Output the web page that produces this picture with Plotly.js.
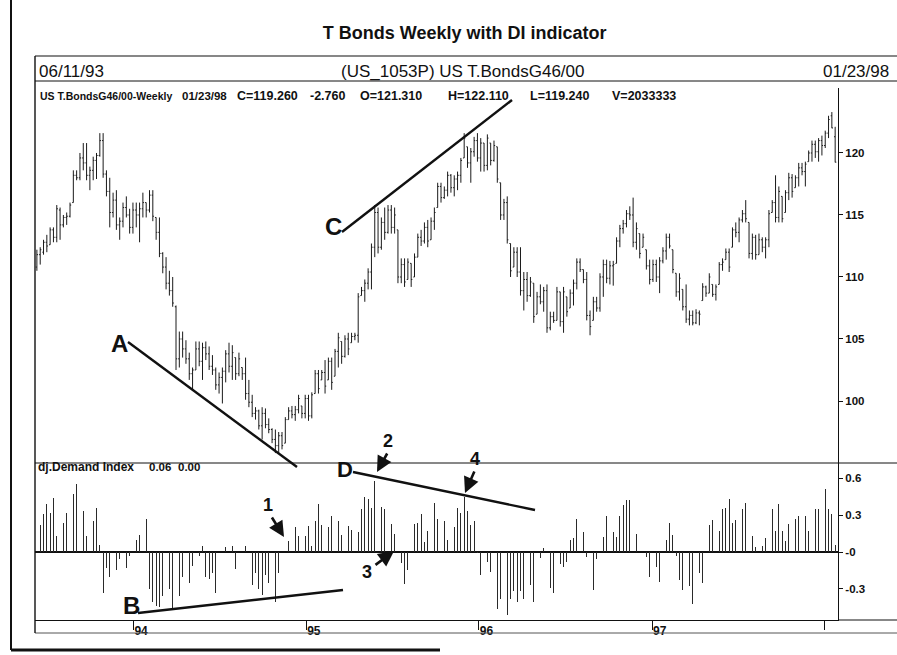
<!DOCTYPE html>
<html><head><meta charset="utf-8">
<script src="https://cdn.plot.ly/plotly-3.0.1.min.js"></script>
<style>html,body{margin:0;padding:0;background:#fff}#chart{width:897px;height:655px}</style>
</head><body><div id="chart"></div>
<script>
// ---- DATA ----
const START_DATE = '1993-06-11';   // first weekly bar
const high = [
112.2,112.4,113.0,113.4,114.0,114.0,115.8,115.6,115.0,115.2,
116.0,118.6,118.6,120.0,120.8,120.8,118.9,119.7,120.0,121.6,
121.6,118.6,118.0,116.8,117.0,114.8,116.0,116.5,115.5,116.0,
116.0,116.0,116.8,116.0,117.0,117.0,114.8,114.8,112.0,111.6,
110.5,110.0,107.7,105.6,105.6,104.9,103.9,102.7,104.8,104.8,
104.7,104.8,104.4,103.7,102.7,102.3,102.7,104.1,104.7,104.5,
103.5,103.9,102.7,103.5,101.7,100.5,99.5,99.3,99.5,99.4,
98.6,97.8,97.7,97.5,97.5,98.7,99.5,99.6,99.6,100.5,
99.6,100.5,100.5,100.7,102.5,102.5,102.5,103.3,103.5,103.5,
104.2,105.5,104.8,105.3,105.5,105.5,105.5,108.7,109.2,109.8,
110.7,112.7,115.8,115.6,114.8,115.6,115.8,115.8,115.6,113.8,
111.5,111.5,111.5,111.1,111.9,113.5,113.8,114.4,114.6,114.8,
115.6,117.6,117.6,117.3,118.5,118.3,118.2,118.5,119.6,121.6,
120.5,120.4,121.3,121.6,121.2,120.8,121.5,120.8,121.0,120.5,
117.6,116.3,116.5,112.7,112.4,112.4,112.4,110.4,110.4,110.0,
109.5,108.8,109.4,109.2,109.4,107.2,107.2,109.2,108.8,109.2,
108.4,109.0,109.8,111.5,111.5,110.6,110.4,107.3,108.4,108.4,
110.3,111.4,111.4,111.3,111.3,113.2,114.2,114.6,115.4,115.7,
116.4,114.4,113.5,113.5,112.2,111.4,111.4,111.4,111.6,112.4,
113.5,113.5,112.2,110.3,110.3,109.0,109.4,107.3,107.3,107.4,
107.3,109.5,109.3,110.3,109.4,109.4,111.2,111.5,112.3,112.3,
114.0,114.4,114.8,115.4,116.2,114.4,113.5,113.4,113.5,113.2,
113.2,115.4,116.2,118.2,117.3,116.5,117.0,118.4,118.3,118.2,
119.2,119.2,119.3,120.2,121.0,121.0,121.2,121.4,121.8,123.0,
123.3,122.11];
const low = [
110.5,111.0,111.8,112.0,112.6,112.8,112.8,113.0,114.0,114.2,
114.8,116.0,117.8,117.8,118.6,117.8,117.0,117.8,117.9,119.7,
118.0,116.5,114.0,114.8,113.8,113.0,114.0,114.8,113.5,113.5,
114.0,112.8,114.8,114.8,115.2,114.5,113.0,111.6,110.3,109.0,
108.5,107.6,102.5,102.7,103.5,103.0,101.7,100.9,102.5,102.8,
101.7,103.3,102.5,102.1,100.9,100.6,99.8,101.5,102.3,101.7,
101.7,102.0,101.7,100.1,99.5,98.7,98.5,97.7,96.9,97.8,
97.4,96.6,95.8,95.8,96.1,96.6,98.5,98.6,98.4,99.0,
98.6,98.6,98.4,98.6,100.6,100.6,101.7,100.6,101.7,100.9,
102.0,102.7,103.0,103.5,103.7,104.7,104.9,104.7,108.5,108.0,
109.0,109.0,111.6,111.9,112.2,113.0,113.5,113.5,113.5,109.5,
109.5,109.2,109.8,109.2,110.0,111.6,112.5,112.7,112.4,113.0,
113.8,115.6,116.0,116.3,116.5,116.8,116.5,117.0,117.6,119.6,
118.8,117.6,119.7,119.3,118.5,118.5,118.6,119.0,119.3,117.6,
114.6,114.6,112.7,110.0,110.8,110.0,108.5,107.3,108.0,108.4,
106.3,107.0,107.8,107.2,105.5,105.7,106.3,106.5,106.0,105.5,
106.8,107.5,107.7,109.0,110.4,109.5,106.5,105.3,106.5,107.2,
107.2,108.4,109.5,109.4,109.3,111.1,112.4,113.5,114.0,114.6,
112.4,112.2,111.5,112.4,110.6,109.4,109.6,109.6,108.7,111.1,
111.4,112.3,110.3,108.4,108.1,107.3,106.3,106.1,106.1,106.2,
106.1,108.1,108.4,108.7,108.4,108.1,109.4,110.5,111.4,110.4,
112.4,113.2,112.8,114.4,114.4,111.5,111.4,111.4,111.8,112.0,
111.5,112.4,115.2,114.4,114.4,114.4,115.2,116.2,116.4,117.2,
117.3,118.2,117.3,119.3,119.3,119.6,119.3,119.8,120.4,121.2,
122.0,119.24];
const open = [
110.8,111.8,112.0,112.8,112.6,113.8,113.2,115.4,114.2,114.8,
114.9,116.0,118.2,118.0,119.6,119.2,118.2,118.6,119.4,119.8,
121.0,118.3,116.9,115.2,116.2,114.2,114.5,115.6,115.0,114.0,
115.4,115.0,115.5,116.0,115.4,116.6,114.8,113.6,111.9,110.8,
109.5,108.9,107.6,103.4,105.0,104.2,103.4,102.2,102.5,104.2,
103.2,104.3,103.8,102.8,102.5,101.3,101.9,102.4,103.8,102.8,
103.5,102.2,102.7,102.2,100.6,99.9,99.0,99.2,98.0,99.0,
98.1,97.7,96.9,96.4,97.2,96.6,98.5,99.2,98.9,99.3,
99.6,99.0,100.2,98.8,100.6,102.2,101.7,102.3,101.7,103.2,
102.0,104.0,104.8,103.6,105.0,104.7,105.2,105.3,108.5,108.9,
109.5,110.4,112.4,115.2,112.4,114.4,113.6,115.4,114.0,113.8,
110.0,111.0,109.8,111.1,110.0,111.6,113.2,112.9,114.0,113.0,
114.5,115.6,117.3,116.4,117.0,118.2,117.2,117.9,118.2,119.6,
120.5,119.2,120.1,121.0,119.6,120.8,119.0,120.8,119.4,120.5,
117.6,115.0,116.0,112.7,110.8,112.0,110.4,108.9,109.8,108.5,
109.5,107.0,108.4,108.0,108.9,105.9,106.8,106.5,108.8,106.4,
108.4,107.5,108.7,109.5,111.2,110.6,109.8,106.9,106.5,108.0,
107.5,110.0,111.0,109.9,110.9,111.1,112.9,113.9,114.3,115.1,
115.0,112.8,113.5,112.4,112.2,110.9,109.8,111.0,110.0,111.3,
112.1,113.2,112.2,110.3,108.8,109.0,107.6,106.6,106.9,106.3,
107.1,108.1,109.2,108.7,109.4,108.6,109.4,111.0,111.4,112.0,
112.4,113.8,113.6,114.6,115.1,114.4,111.9,113.2,111.8,113.0,
112.4,113.0,115.2,116.0,114.8,116.5,115.2,116.8,118.0,117.2,
118.0,118.8,118.5,119.3,120.0,120.7,120.1,121.0,120.6,121.6,
123.0,121.31];
const close = [
111.8,112.2,112.8,112.5,113.8,113.2,115.5,114.2,114.8,114.9,
115.8,118.2,118.0,119.6,119.2,118.2,118.6,119.4,119.8,121.0,
118.3,116.9,115.2,116.2,114.2,114.5,115.6,115.0,114.0,115.4,
115.0,115.5,116.0,115.4,116.6,114.9,113.6,111.9,110.8,109.5,
108.9,107.9,103.4,105.0,104.2,103.4,102.2,102.5,104.2,103.2,
104.3,103.8,102.8,102.5,101.3,101.9,102.4,103.8,102.8,103.9,
102.2,103.4,102.2,100.6,99.9,99.0,99.2,98.0,99.0,98.1,
97.7,96.9,96.4,97.2,96.4,98.5,99.2,98.9,99.3,100.2,
99.0,100.2,98.8,100.5,102.2,101.0,102.3,101.2,103.2,101.5,
104.0,105.1,103.6,105.0,104.2,105.2,105.3,108.4,108.9,109.5,
110.4,112.4,115.2,112.4,114.4,113.6,115.4,114.0,115.0,110.0,
111.0,109.6,111.2,109.8,111.6,113.2,112.9,114.0,112.9,114.5,
115.2,117.3,116.4,117.0,118.2,117.2,117.9,118.2,119.4,121.2,
119.2,120.1,121.0,119.6,120.8,119.0,121.2,119.4,120.6,117.9,
115.0,116.0,113.0,110.5,112.0,110.4,108.9,109.8,108.5,109.6,
106.8,108.4,108.0,108.9,105.9,106.8,106.5,108.8,106.4,108.8,
107.2,108.7,109.5,111.2,110.6,109.8,106.9,106.0,108.0,107.5,
110.0,111.0,109.9,110.9,111.0,112.9,113.9,114.3,115.1,115.0,
112.8,113.9,111.9,113.2,110.9,109.8,111.0,110.0,111.3,112.1,
113.2,112.5,110.6,108.8,109.9,107.6,106.6,106.9,106.3,107.1,
107.0,109.2,108.7,110.0,108.6,109.2,111.0,111.2,112.0,110.8,
113.8,113.6,114.6,115.1,114.7,111.9,113.2,111.8,113.0,112.4,
113.0,115.1,116.0,114.8,116.9,114.7,116.8,118.0,116.9,118.0,
118.8,118.5,119.1,120.0,120.7,120.1,121.0,120.6,121.6,122.7,
122.02,119.26];
const demandIndex = [
0.21,0.22,0.31,0.39,0.32,0.44,0.13,0.24,0.24,0.32,
0.35,0.47,0.55,0.51,0.33,0.13,0.22,0.25,0.36,0.06,
-0.33,-0.13,-0.20,-0.30,-0.15,-0.06,-0.01,-0.13,-0.03,-0.13,
0.10,0.14,0.16,0.27,
-0.30,-0.41,-0.44,-0.45,-0.36,-0.25,-0.30,-0.47,-0.25,-0.36,
-0.20,-0.36,-0.25,-0.11,-0.06,-0.03,0.05,-0.20,-0.22,-0.17,
-0.33,-0.14,0.00,0.04,0.18,0.05,-0.14,-0.03,0.00,0.05,
-0.25,-0.27,-0.17,-0.30,-0.35,-0.19,-0.25,-0.11,-0.41,-0.17,
-0.03,0.00,0.09,0.22,0.20,0.13,0.12,0.13,0.21,0.05,
0.25,0.39,0.22,0.24,0.20,0.29,0.21,0.25,0.14,0.20,
0.21,0.18,0.17,0.16,0.35,0.45,0.43,0.36,0.58,0.32,
0.37,0.35,0.27,0.23,0.15,-0.12,-0.09,-0.26,-0.15,0.00,
0.23,0.24,0.31,0.08,0.17,0.33,0.40,
0.27,0.14,0.25,0.10,0.22,0.20,0.36,0.32,0.45,0.33,
0.22,0.25,-0.01,-0.19,0.09,-0.08,-0.16,-0.27,-0.46,-0.38,
-0.43,-0.51,-0.38,-0.32,-0.41,-0.32,-0.38,-0.22,-0.27,-0.41,
-0.13,-0.05,0.03,-0.18,-0.29,-0.33,-0.24,-0.10,-0.12,-0.08,
0.10,0.11,0.27,0.31,0.16,-0.04,-0.23,-0.31,-0.06,-0.06,
0.12,0.29,0.17,0.16,0.12,0.29,0.38,0.42,0.42,0.42,
0.15,0.00,-0.07,-0.04,-0.20,-0.38,-0.12,-0.24,-0.11,0.10,
0.24,0.14,-0.03,-0.23,-0.31,-0.35,-0.28,-0.42,-0.22,-0.17,
-0.25,0.10,0.22,0.26,0.08,0.17,0.35,0.36,0.43,0.24,
0.26,0.43,0.35,0.40,0.14,0.13,0.04,0.04,0.05,0.11,
0.30,0.35,0.17,0.39,0.17,0.09,0.23,0.38,0.27,0.29,
0.29,0.29,0.17,0.25,0.35,0.35,0.34,0.51,0.35,0.31,0.06];
const yearTickDates = ['1994-01-01','1995-01-01','1996-01-01','1997-01-01','1998-01-01'];
const yearTickText = ['94','95','96','97',''];
const priceTicks = [100,105,110,115,120];
const diTicks = [0.6,0.3,0,-0.3];
const diTickText = ['0.6','0.3','-0','-0.3'];
const infoFields = ['01/23/98','C=119.260','-2.760','O=121.310','H=122.110','L=119.240','V=2033333'];
const diFields = ['0.06','0.00'];

// ---- weekly dates ----
function weeklyDates(start, n){
  const out = []; const t0 = Date.parse(start + 'T00:00:00Z');
  for (let i = 0; i < n; i++) out.push(new Date(t0 + i*7*86400000).toISOString().slice(0,10));
  return out;
}
const dates = weeklyDates(START_DATE, high.length);

// ---- pixel helpers for decorations (plot area: x 35..838, y 88..620) ----
const L = 35, R = 838, T = 88, B = 620;
const PX = x => (x - L) / (R - L);
const PY = y => (B - y) / (B - T);
const FONT = 'Liberation Sans, Arial, sans-serif';
const INK = '#111';

function line(x0,y0,x1,y1,w,c){
  return {type:'line', xref:'paper', yref:'paper', x0:PX(x0), y0:PY(y0), x1:PX(x1), y1:PY(y1),
          line:{color:c||INK, width:w||1}, layer:'above'};
}
function label(txt,x,y,size,anchor){
  return {text:txt, xref:'paper', yref:'paper', x:PX(x), y:PY(y), xanchor:anchor||'center', yanchor:'middle',
          showarrow:false, font:{family:FONT, size:size, color:INK}};
}
function arrow(tx,ty,sx,sy){
  return {text:'', xref:'paper', yref:'paper', x:PX(tx), y:PY(ty), ax:sx-tx, ay:sy-ty,
          showarrow:true, arrowhead:2, arrowsize:1.2, arrowwidth:2.6, arrowcolor:INK, standoff:0};
}

const traces = [
  {type:'ohlc', x:dates, open:open, high:high, low:low, close:close,
   xaxis:'x', yaxis:'y', tickwidth:0.35, hoverinfo:'skip',
   increasing:{line:{color:'#1a1a1a', width:1}}, decreasing:{line:{color:'#1a1a1a', width:1}}},
  {type:'bar', x:dates, y:demandIndex, xaxis:'x', yaxis:'y2', width:1.6*86400000,
   marker:{color:'#2a2a2a', line:{width:0}}, hoverinfo:'skip'}
];

const infoX = [180,235,308,358,446,528,610];
const annotations = [
  label('06/11/93',37,71,17,'left'),
  label('(US_1053P) US T.BondsG46/00',463,71,17,'center'),
  label('01/23/98',891,71,17,'right'),
  label('<b>US T.BondsG46/00-Weekly</b>',38,96,10.5,'left'),
  label('<b>dj.Demand Index</b>',36,467,12,'left'),
  label('<b>A</b>',119,343,24), label('<b>C</b>',333,227,24),
  label('<b>B</b>',131,605,24), label('<b>D</b>',345,469,22),
  label('<b>1</b>',268,505,18), label('<b>2</b>',388,441,18),
  label('<b>3</b>',367,572,18), label('<b>4</b>',475,459,18),
  arrow(284,537,271,516), arrow(377,472,388,452),
  arrow(394,551,374,566), arrow(465,493,475,470)
];
infoFields.forEach((t,k) => annotations.push(label('<b>'+t+'</b>', infoX[k], 96, k===0?11.5:12.5, 'left')));
[147,176].forEach((x,k) => annotations.push(label('<b>'+diFields[k]+'</b>', x, 467, 11.5, 'left')));

const layout = {
  width:897, height:655, margin:{l:L, r:897-R, t:T, b:655-B},
  paper_bgcolor:'#fff', plot_bgcolor:'#fff', showlegend:false,
  font:{family:FONT, color:INK},
  title:{text:'<b>T Bonds Weekly with DI indicator</b>', x:0.518, xanchor:'center', xref:'container',
         y:1-33/655, yanchor:'middle', yref:'container', font:{family:FONT, size:18, color:INK}},
  xaxis:{type:'date', range:['1993-06-07','1998-01-29'], anchor:'y2', showgrid:false, zeroline:false,
         showline:true, linecolor:INK, linewidth:1, ticks:'outside', ticklen:9, tickcolor:INK,
         tickvals:yearTickDates, ticktext:yearTickText, ticklabelposition:'outside right',
         tickfont:{family:FONT, size:12, color:INK, weight:'bold'}, rangeslider:{visible:false}, fixedrange:true},
  yaxis:{domain:[PY(463),1], side:'right', range:[95,125.24], showgrid:false, zeroline:false,
         showline:true, linecolor:INK, linewidth:1, ticks:'outside', ticklen:4, tickcolor:INK,
         tickvals:priceTicks, tickfont:{family:FONT, size:11.5, color:INK, weight:'bold'}, fixedrange:true},
  yaxis2:{domain:[0,PY(463)], side:'right', range:[-0.553,0.724], showgrid:false,
         zeroline:true, zerolinecolor:INK, zerolinewidth:1.3,
         showline:true, linecolor:INK, linewidth:1, ticks:'outside', ticklen:4, tickcolor:INK,
         tickvals:diTicks, ticktext:diTickText, tickfont:{family:FONT, size:11.5, color:INK, weight:'bold'}, fixedrange:true},
  bargap:0,
  shapes:[
    line(35,56,897,56,1.2), line(35,81,897,81,1),
    line(35,463,897,463,1), line(838,620,897,620,1),
    line(35,633,897,633,1,'#555'), line(35,56,35,633,1.4),
    line(11,0,11,650,2), line(11,650,440,650,3),
    // hand-drawn trend lines
    line(128,342,297,467,2.4), line(342,232,512,100,2.4),
    line(138,613,343,590,2.4), line(353,472,535,510,2.4)
  ],
  annotations:annotations
};

Plotly.newPlot('chart', traces, layout, {staticPlot:true, displayModeBar:false});
</script></body></html>
